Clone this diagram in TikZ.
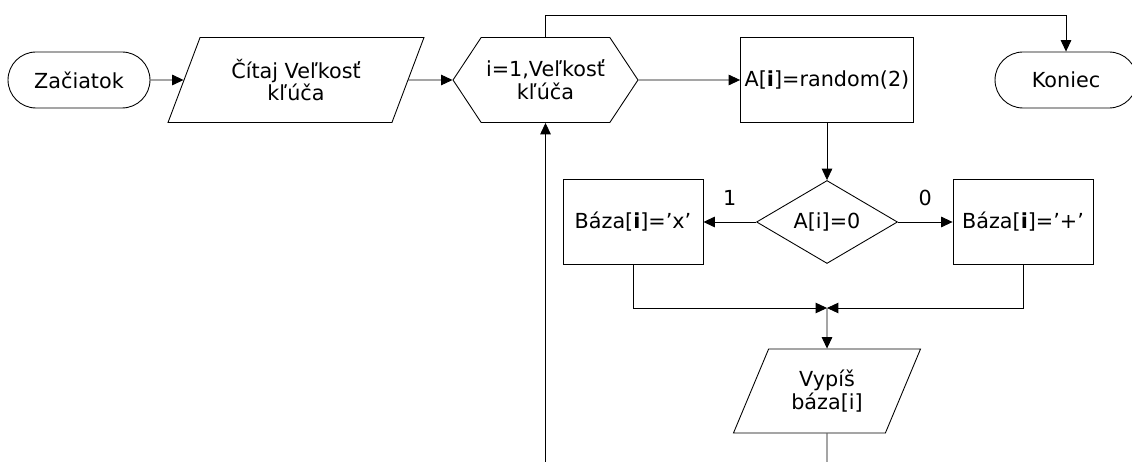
\documentclass[tikz,border=0pt]{standalone}
\usepackage{fontspec}
\setmainfont{DejaVu Sans}
\usepackage{tikz}
\usetikzlibrary{arrows.meta,shapes.geometric,shapes.misc,shapes.symbols,positioning}

\begin{document}
\begin{tikzpicture}[x=0.02cm,y=-0.02cm,>={Triangle[length=6.5pt,width=6pt]},line width=0.5pt,
  font=\fontsize{11.8}{13}\selectfont,
  terminal/.style={draw,rounded rectangle,minimum width=2.84cm,minimum height=1.12cm,inner sep=0pt},
  io/.style={draw,trapezium,trapezium left angle=63,trapezium right angle=117,trapezium stretches=true,minimum height=1.7cm,inner sep=0pt,align=center},
  process/.style={draw,rectangle,minimum height=1.7cm,inner sep=0pt},
  decision/.style={draw,diamond,aspect=1.7,minimum width=2.82cm,minimum height=1.66cm,inner sep=0pt},
  loopbox/.style={draw,signal,signal to=west and east,signal pointer angle=113,minimum width=3.7cm,minimum height=1.7cm,inner sep=0pt,align=center},
  flow/.style={->}]
  \useasboundingbox (0,0) rectangle (1132,462);
  % Top row
  \node[terminal] (start) at (79,80) {Začiatok};
  \node[io,minimum width=5.16cm] (read) at (296,80) {Čítaj Veľkosť\\kľúča};
  \node[loopbox] (loop) at (545.5,80) {i=1,Veľkosť\\kľúča};
  \node[process,minimum width=3.46cm] (gen) at (827,80) {A[\textbf{i}]=random(2)};
  \node[terminal] (stop) at (1066,80) {Koniec};
  % Branch
  \node[decision] (test) at (827,222) {A[i]=0};
  \node[process,minimum width=2.8cm] (setx) at (633,222) {Báza[\textbf{i}]='x'};
  \node[process,minimum width=2.8cm] (setplus) at (1023,222) {Báza[\textbf{i}]='+'};
  \node[io,minimum width=3.76cm,minimum height=1.68cm] (out) at (827,391) {Vypíš\\báza[i]};
  % Helper points
  \coordinate (ceil) at (0,15);
  \coordinate (floor) at (0,462);
  \coordinate (join) at (827,308);
  % Connectors
  \draw[flow] (start) -- (read);
  \draw[flow] (read) -- (loop);
  \draw[flow] (loop) -- (gen);
  \draw[flow] (loop.north) -- (loop.north |- ceil) -| (stop.north);
  \draw[flow] (gen) -- (test);
  \draw[flow] (test) -- node[above=0.2cm] {1} (setx);
  \draw[flow] (test) -- node[above=0.2cm] {0} (setplus);
  \draw[flow] (setx) |- (join);
  \draw[flow] (setplus) |- (join);
  \draw[flow] (join) -- (out);
  \draw (out) -- (out |- floor);
  \draw[flow] (loop |- floor) -- (loop);
\end{tikzpicture}
\end{document}
